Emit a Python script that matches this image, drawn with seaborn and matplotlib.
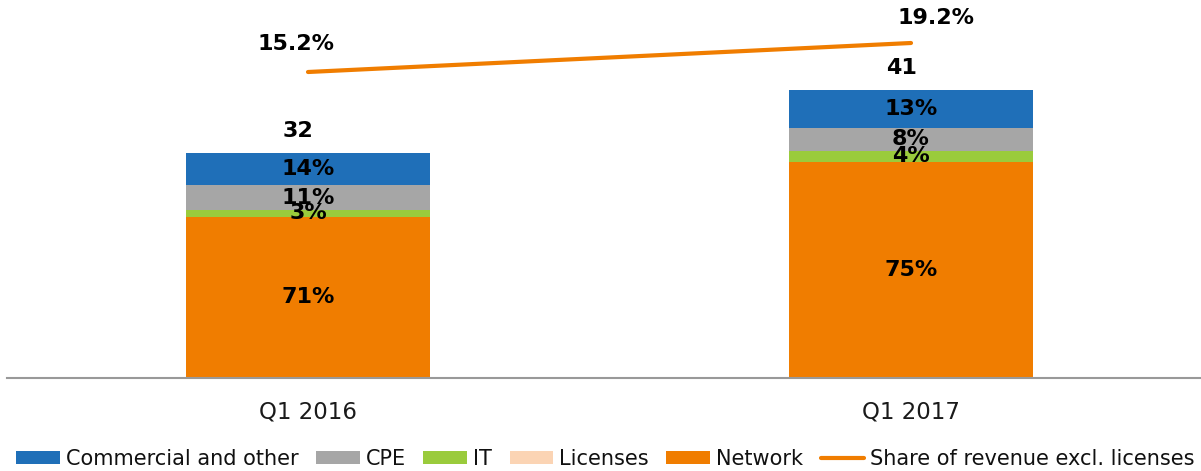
import matplotlib
matplotlib.use("Agg")
import matplotlib.pyplot as plt
import seaborn as sns
import pandas as pd
import numpy as np
from matplotlib.patches import Patch
from matplotlib.lines import Line2D

# ---- data ----
periods = ["Q1 2016", "Q1 2017"]
totals = [32, 41]
network = [71, 75]
licenses = [0, 0]
it_share = [3, 4]
cpe = [11, 8]
commercial = [14, 13]
share_excl_licenses = [15.2, 19.2]

segments = ["Network", "Licenses", "IT", "CPE", "Commercial and other"]
seg_values = [network, licenses, it_share, cpe, commercial]
colors = {"Commercial and other": "#1F6FB8", "CPE": "#A6A6A6", "IT": "#9ACB3C",
          "Licenses": "#FBD4B4", "Network": "#F07D00"}
line_color = "#F07D00"

sns.set_theme(style="white")
plt.rcParams['font.family'] = ['DejaVu Sans']

fig = plt.figure(figsize=(12.01, 4.71), dpi=100)
W, H = 1201, 471
ax_left, ax_right = 6.5, 1212.5
ax_bottom, ax_top = 378, 10
ax = fig.add_axes([ax_left / W, (H - ax_bottom) / H, (ax_right - ax_left) / W, (ax_bottom - ax_top) / H])

# absolute heights of segments (shares normalised to the bar total)
vals = np.array(seg_values, dtype=float)
sums = vals.sum(axis=0)
heights = vals / sums * np.array(totals, dtype=float)
cum = np.cumsum(heights, axis=0)

# draw cumulative bars from top layer down (classic seaborn stacking)
for k in range(len(segments) - 1, -1, -1):
    df = pd.DataFrame({"period": periods, "value": cum[k]})
    sns.barplot(data=df, x="period", y="value", color=colors[segments[k]],
                width=0.405, saturation=1, ax=ax, errorbar=None, linewidth=0)

ax.set_xlim(-0.5, 1.5)
ax.set_ylim(0, (ax_bottom - ax_top) / 7.02)
ax.set_xlabel("")
ax.set_ylabel("")
ax.set_yticks([])
for s in ["top", "right", "left"]:
    ax.spines[s].set_visible(False)
ax.spines["bottom"].set_color("#999999")
ax.spines["bottom"].set_linewidth(1.5)
ax.tick_params(axis="x", length=0, pad=16, labelsize=16.5, labelcolor="#1a1a1a")

# segment labels
for k, seg in enumerate(segments):
    for i in range(len(periods)):
        v = seg_values[k][i]
        if v <= 0:
            continue
        bottom = cum[k][i] - heights[k][i]
        ax.text(i, bottom + heights[k][i] / 2, f"{v}%", ha="center", va="center",
                fontsize=16, fontweight="bold", color="black")

# totals
for i, t in enumerate(totals):
    ax.annotate(f"{t}", (i, cum[-1][i]), xytext=(-7, 9), textcoords="offset points",
                ha="center", va="bottom", fontsize=16, fontweight="bold", color="black")

# share line on secondary axis
ax2 = ax.twinx()
ldf = pd.DataFrame({"x": [0, 1], "y": share_excl_licenses})
sns.lineplot(data=ldf, x="x", y="y", color=line_color, linewidth=3, ax=ax2)
scale = 7.25
lo = 15.2 - (ax_bottom - 72) / scale
ax2.set_ylim(lo, lo + (ax_bottom - ax_top) / scale)
ax2.set_xlim(-0.5, 1.5)
ax2.axis("off")
offsets = [(-9, 20), (18, 18)]
for i, v in enumerate(share_excl_licenses):
    ax2.annotate(f"{v}%", (i, v), xytext=offsets[i], textcoords="offset points",
                 ha="center", va="center", fontsize=16, fontweight="bold", color="black")

# legend
handles = [Patch(facecolor=colors[s], edgecolor="none") for s in
           ["Commercial and other", "CPE", "IT", "Licenses", "Network"]]
handles.append(Line2D([0], [0], color=line_color, linewidth=3))
labels = ["Commercial and other", "CPE", "IT", "Licenses", "Network", "Share of revenue excl. licenses"]
fig.legend(handles, labels, loc="center left", bbox_to_anchor=(16 / W, 12 / H), ncol=6,
           frameon=False, fontsize=15, handlelength=2.1, handleheight=0.62,
           handletextpad=0.28, columnspacing=0.85, borderaxespad=0, borderpad=0,
           labelcolor="#111111")

fig.savefig("out.png", dpi=100)
